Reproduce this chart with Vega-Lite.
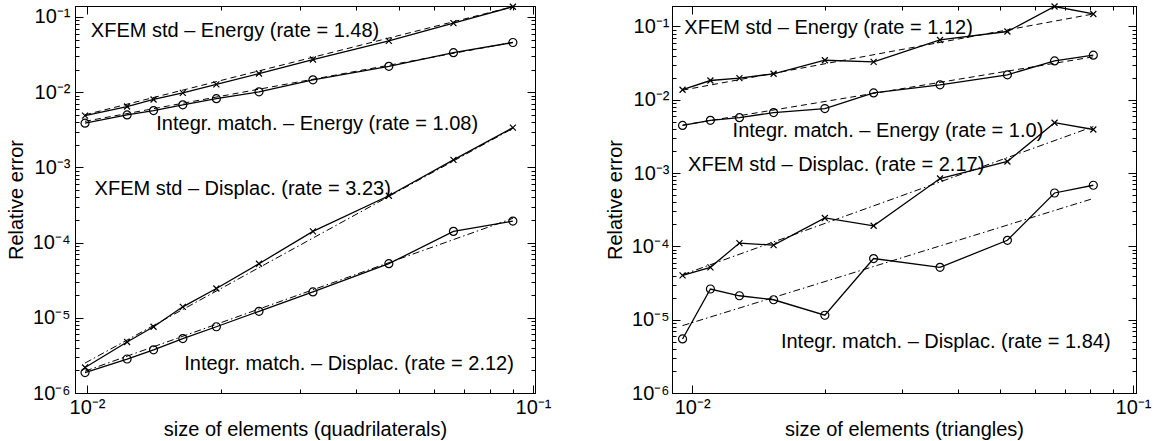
{
  "$schema": "https://vega.github.io/schema/vega-lite/v6.json",
  "background": "white",
  "padding": {"left": 5, "top": 0, "right": 5, "bottom": 0},
  "spacing": 52,
  "config": {
    "view": {"stroke": "black", "strokeWidth": 1},
    "axis": {"grid": false, "domainColor": "black", "tickColor": "black", "labelColor": "black", "titleColor": "black", "labelFont": "Liberation Sans", "titleFont": "Liberation Sans", "labelFontSize": 20, "titleFontSize": 20, "titleFontWeight": "normal", "tickWidth": 1},
    "text": {"font": "Liberation Sans"}
  },
  "datasets": {
    "quad": [
      {"s": "XE", "m": "x", "h": 0.0099, "err": 0.00488},
      {"s": "XE", "m": "x", "h": 0.0123, "err": 0.00645},
      {"s": "XE", "m": "x", "h": 0.0141, "err": 0.0080},
      {"s": "XE", "m": "x", "h": 0.0164, "err": 0.0098},
      {"s": "XE", "m": "x", "h": 0.0195, "err": 0.0127},
      {"s": "XE", "m": "x", "h": 0.0243, "err": 0.0177},
      {"s": "XE", "m": "x", "h": 0.0321, "err": 0.0272},
      {"s": "XE", "m": "x", "h": 0.0475, "err": 0.0482},
      {"s": "XE", "m": "x", "h": 0.0663, "err": 0.083},
      {"s": "XE", "m": "x", "h": 0.0901, "err": 0.137},
      {"s": "IE", "m": "o", "h": 0.0099, "err": 0.00387},
      {"s": "IE", "m": "o", "h": 0.0123, "err": 0.00498},
      {"s": "IE", "m": "o", "h": 0.0141, "err": 0.0057},
      {"s": "IE", "m": "o", "h": 0.0164, "err": 0.0068},
      {"s": "IE", "m": "o", "h": 0.0195, "err": 0.0082},
      {"s": "IE", "m": "o", "h": 0.0243, "err": 0.0101},
      {"s": "IE", "m": "o", "h": 0.0321, "err": 0.0146},
      {"s": "IE", "m": "o", "h": 0.0475, "err": 0.0221},
      {"s": "IE", "m": "o", "h": 0.0663, "err": 0.0335},
      {"s": "IE", "m": "o", "h": 0.0901, "err": 0.0458},
      {"s": "XD", "m": "x", "h": 0.0099, "err": 0.00000218},
      {"s": "XD", "m": "x", "h": 0.0123, "err": 0.00000477},
      {"s": "XD", "m": "x", "h": 0.0141, "err": 0.0000076},
      {"s": "XD", "m": "x", "h": 0.0164, "err": 0.0000140},
      {"s": "XD", "m": "x", "h": 0.0195, "err": 0.0000245},
      {"s": "XD", "m": "x", "h": 0.0243, "err": 0.0000524},
      {"s": "XD", "m": "x", "h": 0.0321, "err": 0.000141},
      {"s": "XD", "m": "x", "h": 0.0475, "err": 0.00042},
      {"s": "XD", "m": "x", "h": 0.0663, "err": 0.00126},
      {"s": "XD", "m": "x", "h": 0.0901, "err": 0.00338},
      {"s": "ID", "m": "o", "h": 0.0099, "err": 0.00000187},
      {"s": "ID", "m": "o", "h": 0.0123, "err": 0.00000283},
      {"s": "ID", "m": "o", "h": 0.0141, "err": 0.00000375},
      {"s": "ID", "m": "o", "h": 0.0164, "err": 0.0000053},
      {"s": "ID", "m": "o", "h": 0.0195, "err": 0.0000076},
      {"s": "ID", "m": "o", "h": 0.0243, "err": 0.0000122},
      {"s": "ID", "m": "o", "h": 0.0321, "err": 0.0000221},
      {"s": "ID", "m": "o", "h": 0.0475, "err": 0.0000524},
      {"s": "ID", "m": "o", "h": 0.0663, "err": 0.000141},
      {"s": "ID", "m": "o", "h": 0.0901, "err": 0.000193}
    ],
    "quadFit": [
      {"s": "XE", "k": "E", "h": 0.0099, "err": 0.0050},
      {"s": "XE", "k": "E", "h": 0.0901, "err": 0.137},
      {"s": "IE", "k": "E", "h": 0.0099, "err": 0.0041},
      {"s": "IE", "k": "E", "h": 0.0901, "err": 0.046},
      {"s": "XD", "k": "D", "h": 0.0099, "err": 0.0000025},
      {"s": "XD", "k": "D", "h": 0.0901, "err": 0.0033},
      {"s": "ID", "k": "D", "h": 0.0099, "err": 0.00000195},
      {"s": "ID", "k": "D", "h": 0.0901, "err": 0.00021}
    ],
    "quadText": [
      {"t": "XFEM std – Energy (rate = 1.48)", "h": 0.0102, "err": 0.0659},
      {"t": "Integr. match. – Energy (rate = 1.08)", "h": 0.0143, "err": 0.00376},
      {"t": "XFEM std – Displac. (rate = 3.23)", "h": 0.0104, "err": 0.000519},
      {"t": "Integr. match. – Displac. (rate = 2.12)", "h": 0.01652, "err": 0.00000243}
    ],
    "tri": [
      {"s": "XE", "m": "x", "h": 0.00951, "err": 0.0137},
      {"s": "XE", "m": "x", "h": 0.0110, "err": 0.0183},
      {"s": "XE", "m": "x", "h": 0.0128, "err": 0.0197},
      {"s": "XE", "m": "x", "h": 0.0153, "err": 0.0226},
      {"s": "XE", "m": "x", "h": 0.0200, "err": 0.0346},
      {"s": "XE", "m": "x", "h": 0.0258, "err": 0.0328},
      {"s": "XE", "m": "x", "h": 0.0365, "err": 0.0654},
      {"s": "XE", "m": "x", "h": 0.0519, "err": 0.0853},
      {"s": "XE", "m": "x", "h": 0.0664, "err": 0.187},
      {"s": "XE", "m": "x", "h": 0.0813, "err": 0.148},
      {"s": "IE", "m": "o", "h": 0.00951, "err": 0.00447},
      {"s": "IE", "m": "o", "h": 0.0110, "err": 0.00524},
      {"s": "IE", "m": "o", "h": 0.0128, "err": 0.0057},
      {"s": "IE", "m": "o", "h": 0.0153, "err": 0.00668},
      {"s": "IE", "m": "o", "h": 0.0200, "err": 0.00759},
      {"s": "IE", "m": "o", "h": 0.0258, "err": 0.0124},
      {"s": "IE", "m": "o", "h": 0.0365, "err": 0.0160},
      {"s": "IE", "m": "o", "h": 0.0519, "err": 0.0219},
      {"s": "IE", "m": "o", "h": 0.0664, "err": 0.0339},
      {"s": "IE", "m": "o", "h": 0.0813, "err": 0.0406},
      {"s": "XD", "m": "x", "h": 0.00951, "err": 0.0000402},
      {"s": "XD", "m": "x", "h": 0.0110, "err": 0.0000518},
      {"s": "XD", "m": "x", "h": 0.0128, "err": 0.000111},
      {"s": "XD", "m": "x", "h": 0.0153, "err": 0.000104},
      {"s": "XD", "m": "x", "h": 0.0200, "err": 0.000244},
      {"s": "XD", "m": "x", "h": 0.0258, "err": 0.000191},
      {"s": "XD", "m": "x", "h": 0.0365, "err": 0.000843},
      {"s": "XD", "m": "x", "h": 0.0519, "err": 0.00144},
      {"s": "XD", "m": "x", "h": 0.0664, "err": 0.00486},
      {"s": "XD", "m": "x", "h": 0.0813, "err": 0.00393},
      {"s": "ID", "m": "o", "h": 0.00951, "err": 0.00000546},
      {"s": "ID", "m": "o", "h": 0.0110, "err": 0.0000262},
      {"s": "ID", "m": "o", "h": 0.0128, "err": 0.0000212},
      {"s": "ID", "m": "o", "h": 0.0153, "err": 0.0000187},
      {"s": "ID", "m": "o", "h": 0.0200, "err": 0.0000115},
      {"s": "ID", "m": "o", "h": 0.0258, "err": 0.0000682},
      {"s": "ID", "m": "o", "h": 0.0365, "err": 0.0000518},
      {"s": "ID", "m": "o", "h": 0.0519, "err": 0.000121},
      {"s": "ID", "m": "o", "h": 0.0664, "err": 0.000535},
      {"s": "ID", "m": "o", "h": 0.0813, "err": 0.000682}
    ],
    "triFit": [
      {"s": "XE", "k": "E", "h": 0.00951, "err": 0.0135},
      {"s": "XE", "k": "E", "h": 0.0813, "err": 0.148},
      {"s": "IE", "k": "E", "h": 0.00951, "err": 0.0045},
      {"s": "IE", "k": "E", "h": 0.0813, "err": 0.0385},
      {"s": "XD", "k": "D", "h": 0.00951, "err": 0.000041},
      {"s": "XD", "k": "D", "h": 0.0813, "err": 0.0043},
      {"s": "ID", "k": "D", "h": 0.00951, "err": 0.0000083},
      {"s": "ID", "k": "D", "h": 0.0813, "err": 0.00045}
    ],
    "triText": [
      {"t": "XFEM std – Energy (rate = 1.12)", "h": 0.0096, "err": 0.0948},
      {"t": "Integr. match. – Energy (rate = 1.0)", "h": 0.01235, "err": 0.00372},
      {"t": "XFEM std – Displac. (rate = 2.17)", "h": 0.00979, "err": 0.00129},
      {"t": "Integr. match. – Displac. (rate = 1.84)", "h": 0.0159, "err": 0.00000491}
    ]
  },
  "hconcat": [
    {
      "width": 460,
      "height": 387,
      "resolve": {"axis": {"x": "independent", "y": "independent"}},
      "layer": [
        {
          "encoding": {
            "x": {"field": "h", "type": "quantitative", "scale": {"type": "log", "domain": [0.0094, 0.101], "nice": false},
              "axis": {"orient": "bottom", "title": "size of elements (quadrilaterals)", "values": [0.01, 0.02, 0.03, 0.04, 0.05, 0.06, 0.07, 0.08, 0.09, 0.1],
                "labelExpr": "datum.value == 0.01 ? '10⁻²' : datum.value == 0.1 ? '10⁻¹' : ''",
                "tickSize": {"condition": {"test": "datum.value == 0.01 || datum.value == 0.1", "value": -8}, "value": -4},
                "labelPadding": 12, "titlePadding": -2, "labelFlush": false, "labelOverlap": false}},
            "y": {"field": "err", "type": "quantitative", "scale": {"type": "log", "domain": [0.000001, 0.14], "nice": false},
              "axis": {"orient": "left", "title": "Relative error", "values": [0.000001,0.000002,0.000003,0.000004,0.000005,0.000006,0.000007,0.000008,0.000009,0.00001,0.00002,0.00003,0.00004,0.00005,0.00006,0.00007,0.00008,0.00009,0.0001,0.0002,0.0003,0.0004,0.0005,0.0006,0.0007,0.0008,0.0009,0.001,0.002,0.003,0.004,0.005,0.006,0.007,0.008,0.009,0.01,0.02,0.03,0.04,0.05,0.06,0.07,0.08,0.09,0.1],
                "labelExpr": "datum.value == 0.000001 ? '10⁻⁶' : datum.value == 0.00001 ? '10⁻⁵' : datum.value == 0.0001 ? '10⁻⁴' : datum.value == 0.001 ? '10⁻³' : datum.value == 0.01 ? '10⁻²' : datum.value == 0.1 ? '10⁻¹' : ''",
                "tickSize": {"condition": {"test": "indexof([0.000001,0.00001,0.0001,0.001,0.01,0.1], datum.value) >= 0", "value": -8}, "value": -4},
                "labelPadding": 13, "titlePadding": 6, "labelFlush": false, "labelOverlap": false}}
          },
          "layer": [
            {"data": {"name": "quadFit"}, "transform": [{"filter": "datum.k == 'E'"}], "mark": {"type": "line", "color": "black", "strokeWidth": 1, "strokeDash": [6, 4]}, "encoding": {"detail": {"field": "s"}}},
            {"data": {"name": "quadFit"}, "transform": [{"filter": "datum.k == 'D'"}], "mark": {"type": "line", "color": "black", "strokeWidth": 1, "strokeDash": [7, 3, 1.5, 3]}, "encoding": {"detail": {"field": "s"}}},
            {"data": {"name": "quad"}, "mark": {"type": "line", "color": "black", "strokeWidth": 1.3}, "encoding": {"detail": {"field": "s"}}},
            {"data": {"name": "quad"}, "transform": [{"filter": "datum.m == 'x'"}], "mark": {"type": "point", "shape": "M-1,-1L1,1M-1,1L1,-1", "filled": false, "stroke": "black", "strokeWidth": 1.2, "size": 36, "opacity": 1}},
            {"data": {"name": "quad"}, "transform": [{"filter": "datum.m == 'o'"}], "mark": {"type": "point", "shape": "circle", "filled": false, "stroke": "black", "strokeWidth": 1.2, "size": 64, "opacity": 1}},
            {"data": {"name": "quadText"}, "mark": {"type": "text", "align": "left", "baseline": "middle", "fontSize": 20, "color": "black"}, "encoding": {"text": {"field": "t"}}}
          ]
        },
        {
          "data": {"name": "quadFit"},
          "mark": {"type": "point", "opacity": 0},
          "encoding": {
            "x": {"field": "h", "type": "quantitative", "scale": {"type": "log", "domain": [0.0094, 0.101], "nice": false},
              "axis": {"orient": "top", "title": null, "labels": false, "values": [0.01, 0.02, 0.03, 0.04, 0.05, 0.06, 0.07, 0.08, 0.09, 0.1],
                "tickSize": {"condition": {"test": "datum.value == 0.01 || datum.value == 0.1", "value": -8}, "value": -4}}},
            "y": {"field": "err", "type": "quantitative", "scale": {"type": "log", "domain": [0.000001, 0.14], "nice": false},
              "axis": {"orient": "right", "title": null, "labels": false, "values": [0.000001,0.000002,0.000003,0.000004,0.000005,0.000006,0.000007,0.000008,0.000009,0.00001,0.00002,0.00003,0.00004,0.00005,0.00006,0.00007,0.00008,0.00009,0.0001,0.0002,0.0003,0.0004,0.0005,0.0006,0.0007,0.0008,0.0009,0.001,0.002,0.003,0.004,0.005,0.006,0.007,0.008,0.009,0.01,0.02,0.03,0.04,0.05,0.06,0.07,0.08,0.09,0.1],
                "tickSize": {"condition": {"test": "indexof([0.000001,0.00001,0.0001,0.001,0.01,0.1], datum.value) >= 0", "value": -8}, "value": -4}}}
          }
        }
      ]
    },
    {
      "width": 464,
      "height": 387,
      "resolve": {"axis": {"x": "independent", "y": "independent"}},
      "layer": [
        {
          "encoding": {
            "x": {"field": "h", "type": "quantitative", "scale": {"type": "log", "domain": [0.009, 0.1016], "nice": false},
              "axis": {"orient": "bottom", "title": "size of elements (triangles)", "values": [0.01, 0.02, 0.03, 0.04, 0.05, 0.06, 0.07, 0.08, 0.09, 0.1],
                "labelExpr": "datum.value == 0.01 ? '10⁻²' : datum.value == 0.1 ? '10⁻¹' : ''",
                "tickSize": {"condition": {"test": "datum.value == 0.01 || datum.value == 0.1", "value": -8}, "value": -4},
                "labelPadding": 12, "titlePadding": -2, "labelFlush": false, "labelOverlap": false}},
            "y": {"field": "err", "type": "quantitative", "scale": {"type": "log", "domain": [0.000001, 0.19], "nice": false},
              "axis": {"orient": "left", "title": "Relative error", "values": [0.000001,0.000002,0.000003,0.000004,0.000005,0.000006,0.000007,0.000008,0.000009,0.00001,0.00002,0.00003,0.00004,0.00005,0.00006,0.00007,0.00008,0.00009,0.0001,0.0002,0.0003,0.0004,0.0005,0.0006,0.0007,0.0008,0.0009,0.001,0.002,0.003,0.004,0.005,0.006,0.007,0.008,0.009,0.01,0.02,0.03,0.04,0.05,0.06,0.07,0.08,0.09,0.1],
                "labelExpr": "datum.value == 0.000001 ? '10⁻⁶' : datum.value == 0.00001 ? '10⁻⁵' : datum.value == 0.0001 ? '10⁻⁴' : datum.value == 0.001 ? '10⁻³' : datum.value == 0.01 ? '10⁻²' : datum.value == 0.1 ? '10⁻¹' : ''",
                "tickSize": {"condition": {"test": "indexof([0.000001,0.00001,0.0001,0.001,0.01,0.1], datum.value) >= 0", "value": -8}, "value": -4},
                "labelPadding": 11, "titlePadding": 6, "labelFlush": false, "labelOverlap": false}}
          },
          "layer": [
            {"data": {"name": "triFit"}, "transform": [{"filter": "datum.k == 'E'"}], "mark": {"type": "line", "color": "black", "strokeWidth": 1, "strokeDash": [6, 4]}, "encoding": {"detail": {"field": "s"}}},
            {"data": {"name": "triFit"}, "transform": [{"filter": "datum.k == 'D'"}], "mark": {"type": "line", "color": "black", "strokeWidth": 1, "strokeDash": [7, 3, 1.5, 3]}, "encoding": {"detail": {"field": "s"}}},
            {"data": {"name": "tri"}, "mark": {"type": "line", "color": "black", "strokeWidth": 1.3}, "encoding": {"detail": {"field": "s"}}},
            {"data": {"name": "tri"}, "transform": [{"filter": "datum.m == 'x'"}], "mark": {"type": "point", "shape": "M-1,-1L1,1M-1,1L1,-1", "filled": false, "stroke": "black", "strokeWidth": 1.2, "size": 36, "opacity": 1}},
            {"data": {"name": "tri"}, "transform": [{"filter": "datum.m == 'o'"}], "mark": {"type": "point", "shape": "circle", "filled": false, "stroke": "black", "strokeWidth": 1.2, "size": 64, "opacity": 1}},
            {"data": {"name": "triText"}, "mark": {"type": "text", "align": "left", "baseline": "middle", "fontSize": 20, "color": "black"}, "encoding": {"text": {"field": "t"}}}
          ]
        },
        {
          "data": {"name": "triFit"},
          "mark": {"type": "point", "opacity": 0},
          "encoding": {
            "x": {"field": "h", "type": "quantitative", "scale": {"type": "log", "domain": [0.009, 0.1016], "nice": false},
              "axis": {"orient": "top", "title": null, "labels": false, "values": [0.01, 0.02, 0.03, 0.04, 0.05, 0.06, 0.07, 0.08, 0.09, 0.1],
                "tickSize": {"condition": {"test": "datum.value == 0.01 || datum.value == 0.1", "value": -8}, "value": -4}}},
            "y": {"field": "err", "type": "quantitative", "scale": {"type": "log", "domain": [0.000001, 0.19], "nice": false},
              "axis": {"orient": "right", "title": null, "labels": false, "values": [0.000001,0.000002,0.000003,0.000004,0.000005,0.000006,0.000007,0.000008,0.000009,0.00001,0.00002,0.00003,0.00004,0.00005,0.00006,0.00007,0.00008,0.00009,0.0001,0.0002,0.0003,0.0004,0.0005,0.0006,0.0007,0.0008,0.0009,0.001,0.002,0.003,0.004,0.005,0.006,0.007,0.008,0.009,0.01,0.02,0.03,0.04,0.05,0.06,0.07,0.08,0.09,0.1],
                "tickSize": {"condition": {"test": "indexof([0.000001,0.00001,0.0001,0.001,0.01,0.1], datum.value) >= 0", "value": -8}, "value": -4}}}
          }
        }
      ]
    }
  ]
}
